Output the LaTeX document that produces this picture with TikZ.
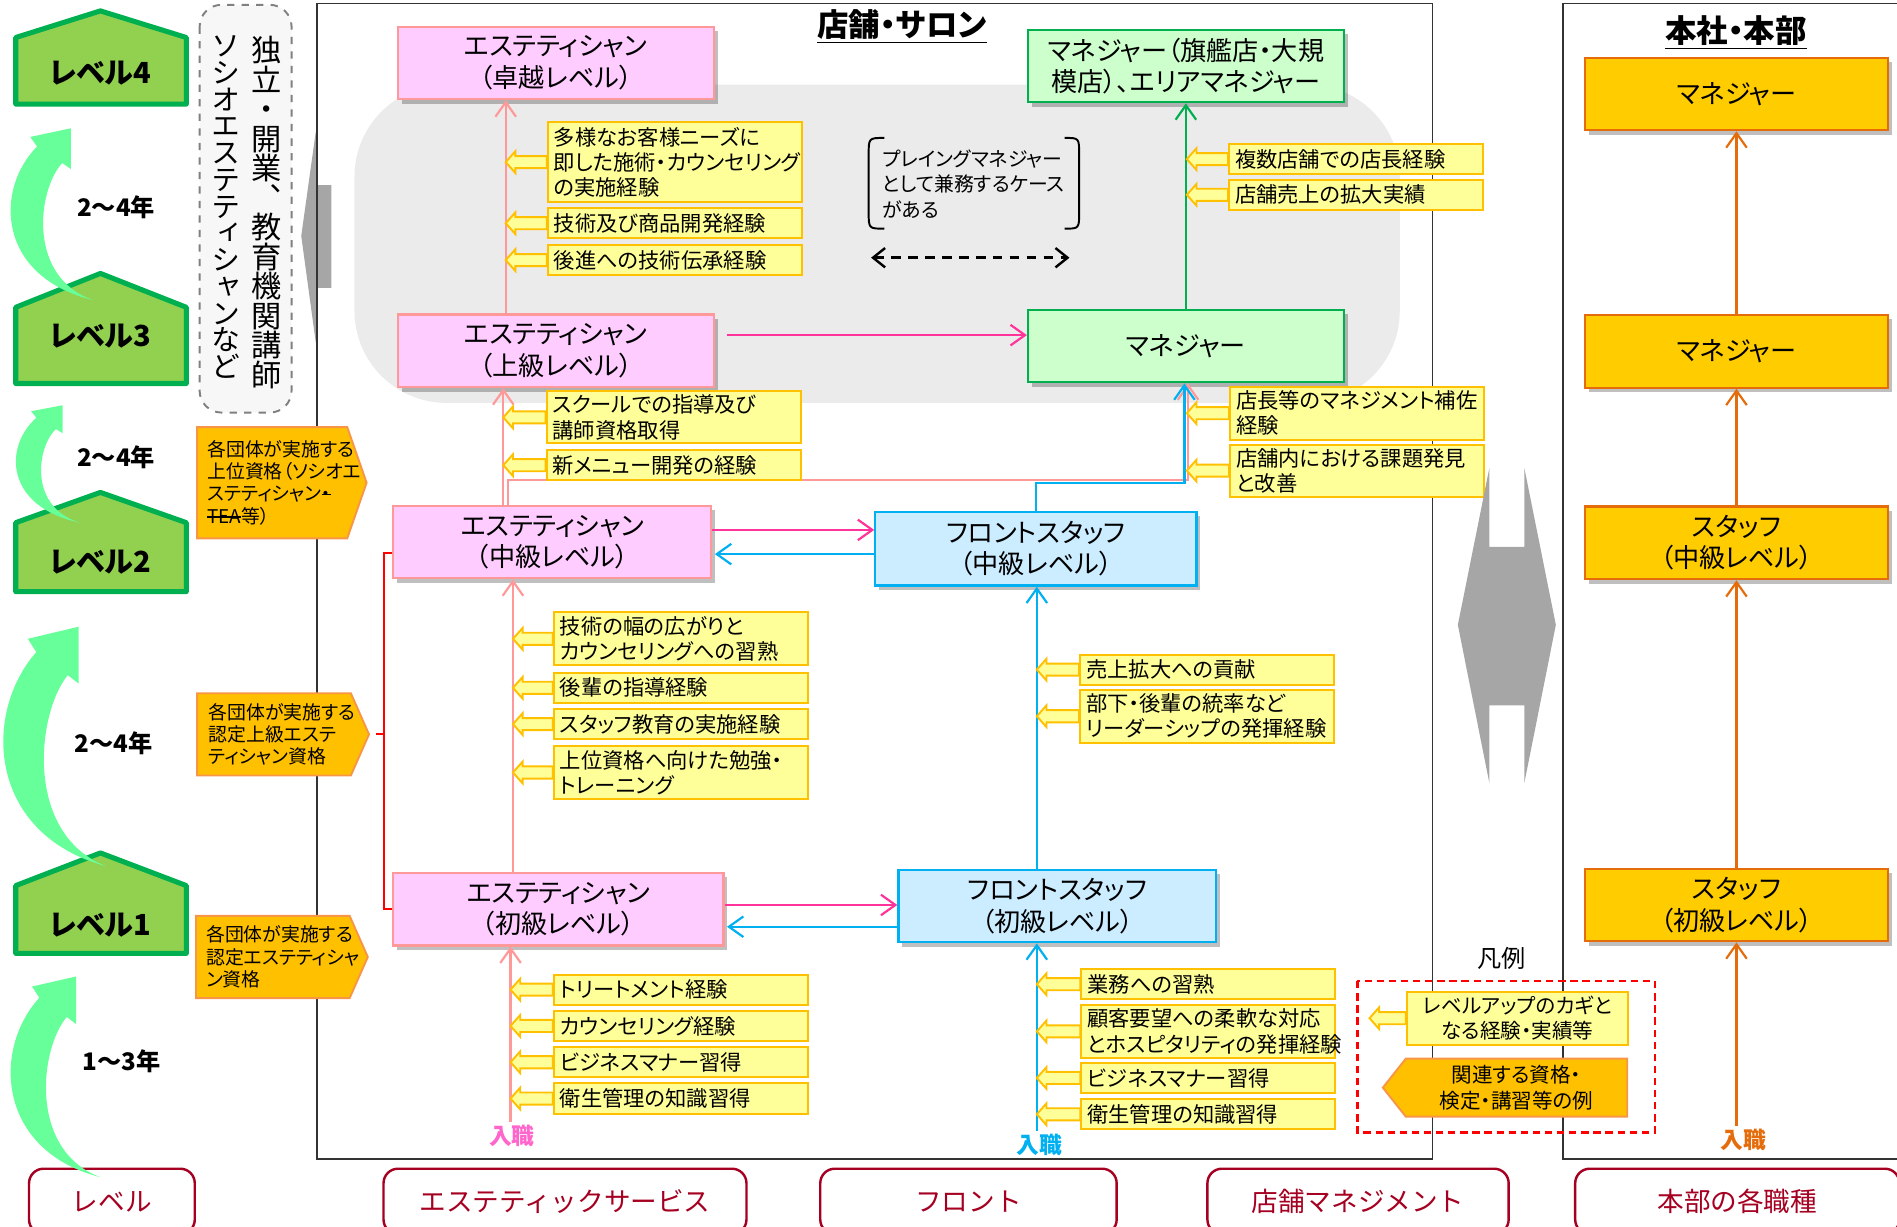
\documentclass[tikz,border=0pt]{standalone}
\usepackage{fontspec}
\setmainfont{Noto Sans CJK JP}[RawFeature=+palt]
\newfontfamily\vjp{Noto Sans CJK JP}[RawFeature=+vert]
\newfontfamily\fulljp{Noto Sans CJK JP}
\usetikzlibrary{arrows.meta,calc,positioning,shadows}

\definecolor{housefill}{HTML}{92D050}
\definecolor{houseedge}{HTML}{00B050}
\definecolor{growfill}{HTML}{66FF99}
\definecolor{esthfill}{HTML}{FFCCFF}
\definecolor{esthedge}{HTML}{FF9999}
\definecolor{hotpink}{HTML}{FF3399}
\definecolor{entrypink}{HTML}{FF66CC}
\definecolor{frontfill}{HTML}{CCECFF}
\definecolor{frontblue}{HTML}{00B0F0}
\definecolor{mgrfill}{HTML}{CCFFCC}
\definecolor{mgrgreen}{HTML}{00B050}
\definecolor{hqfill}{HTML}{FFCC00}
\definecolor{hqorange}{HTML}{E46C0A}
\definecolor{keyfill}{HTML}{FFFF99}
\definecolor{keyedge}{HTML}{FFC000}
\definecolor{qualfill}{HTML}{FFC000}
\definecolor{qualedge}{HTML}{F79646}
\definecolor{regiongray}{HTML}{EBEBEB}
\definecolor{arrowgray}{HTML}{A6A6A6}
\definecolor{catred}{HTML}{A50021}

% strike-through for the struck-out part of a label
\newcommand\struck[1]{\leavevmode\setbox0\hbox{#1}\rlap{\rule[0.3em]{\wd0}{0.5pt}}\box0}

% yellow key label arrow: #1 label node, #2 coordinate of the ladder line
\newcommand\keyarrow[2]{%
  \draw[keyarrowshape] (#1.west -| #2) -- ++(8,-9) -- ++(0,4) -- ($(#1.west)+(0,-5)$)
    -- ($(#1.west)+(0,5)$) -- ($(#1.west -| #2)+(8,5)$) -- ++(0,4) -- cycle;}

% green curved arrow: #1 tail, #2 xscale, #3 yscale
\newcommand\growarrow[3]{%
  \begin{scope}[shift={#1}, xscale=#2, yscale=#3]
    \fill[growfill] (0,0) .. controls (-98,-26) and (-103,-126) .. (-58,-177)
      -- (-65,-188) -- (-23,-198) -- (-23,-151) -- (-32,-158)
      .. controls (-58,-126) and (-68,-26) .. (0,0) -- cycle;
  \end{scope}}

\tikzset{
  basebox/.style={draw, line width=0.9pt, minimum width=130.5pt, minimum height=30pt,
    inner sep=0pt, align=center, font=\fontsize{10.8}{13}\selectfont,
    drop shadow={shadow xshift=1.6pt, shadow yshift=-1.8pt, opacity=.25, fill=black}},
  esthbox/.style={basebox, fill=esthfill, draw=esthedge},
  frontbox/.style={basebox, fill=frontfill, draw=frontblue},
  mgrbox/.style={basebox, fill=mgrfill, draw=mgrgreen},
  hqbox/.style={basebox, fill=hqfill, draw=hqorange, minimum width=125.25pt},
  keylabel/.style={draw=keyedge, fill=keyfill, line width=0.8pt, anchor=west,
    minimum height=#1, text width=100pt, inner xsep=2.5pt, inner ysep=0pt,
    align=left, font=\fontsize{8.8}{10.4}\selectfont},
  keylabel/.default=12.5pt,
  keyarrowshape/.style={draw=keyedge, fill=keyfill, line width=0.8pt},
  qualshape/.style={draw=qualedge, fill=qualfill, line width=0.8pt},
  qualtext/.style={anchor=west, align=left, inner sep=0pt, font=\fontsize{7.8}{9.2}\selectfont},
  house/.style={draw=houseedge, fill=housefill, line width=2.1pt, line join=round},
  leveltext/.style={font=\bfseries\fontsize{12}{14}\selectfont},
  yeartext/.style={font=\bfseries\fontsize{10}{12}\selectfont},
  vtext/.style={align=center, inner sep=0pt},
  conn/.style={line width=0.9pt, -{Straight Barb[length=6pt,width=8.5pt]}},
  pinkflow/.style={conn, draw=esthedge},
  hotflow/.style={conn, draw=hotpink},
  blueflow/.style={conn, draw=frontblue},
  greenflow/.style={conn, draw=mgrgreen},
  orangeflow/.style={conn, draw=hqorange},
  redbracket/.style={draw=red, line width=0.8pt},
  panel/.style={draw=black!80, line width=0.7pt},
  paneltitle/.style={font=\bfseries\fontsize{13}{15}\selectfont},
  entrytext/.style={font=\bfseries\fontsize{9.4}{11}\selectfont, inner sep=1pt},
  catbox/.style={draw=catred, text=catred, line width=1pt, rounded corners=6pt,
    minimum height=27pt, fill=white, font=\fulljp\fontsize{11}{13}\selectfont},
}

\begin{document}
\begin{tikzpicture}[x=0.5pt, y=-0.5pt]
\useasboundingbox (0,0) rectangle (1568,1014);

% panels
\fill[regiongray, rounded corners=38pt] (293,70) rectangle (1157,333);
\fill[arrowgray] (249,195) -- (261,109) -- (261,153) -- (274,153) -- (274,238) -- (261,238) -- (261,283) -- cycle;
\draw[panel] (262,3) rectangle (1184,958);
\draw[panel] (1292,3) rectangle (1600,958);
\node[paneltitle] (st) at (745.5,22) {\underline{店舗・サロン}};
\node[paneltitle] (hq) at (1435,27) {\underline{本社・本部}};

% levels
\draw[house] (13,31) -- (83,9) -- (154,31) -- (154,86) -- (13,86) -- cycle;
\draw[house] (13,254) -- (83,226) -- (154,254) -- (154,317) -- (13,317) -- cycle;
\draw[house] (13,432) -- (83,407) -- (154,432) -- (154,489) -- (13,489) -- cycle;
\draw[house] (13,732) -- (83,705) -- (154,732) -- (154,788) -- (13,788) -- cycle;
\node[leveltext] (lv4) at (83,60.5) {レベル4};
\node[leveltext] (lv3) at (83,277.5) {レベル3};
\node[leveltext] (lv2) at (83,465) {レベル2};
\node[leveltext] (lv1) at (83,765) {レベル1};

% bottom categories
\node[catbox, minimum width=68.5pt] (c1) at (92.5,993) {レベル};
\node[catbox, minimum width=150pt] (c2) at (467,993) {エステティックサービス};
\node[catbox, minimum width=122.5pt] (c3) at (800.5,993) {フロント};
\node[catbox, minimum width=124.5pt] (c4) at (1122.5,993) {店舗マネジメント};
\node[catbox, minimum width=134pt] (c5) at (1436,993) {本部の各職種};

\growarrow{(83,973)}{0.87}{0.838}
\growarrow{(88,716)}{1}{1}
\growarrow{(66,432)}{0.62}{0.49}
\growarrow{(77,248)}{0.8}{0.717}
\node[yeartext] (y4) at (96,171) {2～4年};
\node[yeartext] (y3) at (96,378) {2～4年};
\node[yeartext] (y2) at (94,614.5) {2～4年};
\node[yeartext] (y1) at (100.5,877) {1～3年};

% independent careers
\draw[dashed, draw=black!50, fill=black!3, line width=0.8pt, rounded corners=9pt] (165,4) rectangle (241,341);
\node[vtext, font={\vjp\fontsize{12.5}{12.2}\selectfont\lineskiplimit=-20pt}] (indep) at (220,175.7)
  {独\\立\\・\\開\\業\\、\\教\\育\\機\\関\\講\\師};
\node[vtext, font={\vjp\fontsize{12}{11.05}\selectfont\lineskiplimit=-20pt}] (socio) at (187,171.2)
  {ソ\\シ\\オ\\エ\\ス\\テ\\テ\\ィ\\シ\\ャ\\ン\\な\\ど};

% qualifications
\draw[qualshape] (163,353) -- (287,353) -- (303,399) -- (287,445) -- (163,445) -- cycle;
\draw[qualshape] (163,573) -- (290,573) -- (305,607) -- (290,641) -- (163,641) -- cycle;
\draw[qualshape] (162,757) -- (289,757) -- (304,791) -- (289,825) -- (162,825) -- cycle;
\coordinate (q2tip) at (305,607);
\node[qualtext] (q1) at (171,399) {各団体が実施する\\上位資格（ソシオエ\\ステティシャン\struck{・}\\\struck{TEA}等）};
\node[qualtext] (q2) at (172,607) {各団体が実施する\\認定上級エステ\\ティシャン資格};
\node[qualtext] (q3) at (170,791) {各団体が実施する\\認定エステティシャ\\ン資格};

% career boxes
\node[esthbox] (E4) at (459.5,52) {エステティシャン\\（卓越レベル）};
\node[esthbox] (E3) at (459.5,290) {エステティシャン\\（上級レベル）};
\node[esthbox, minimum width=131.5pt] (E2) at (456.5,448) {エステティシャン\\（中級レベル）};
\node[esthbox, minimum width=136.5pt] (E1) at (461.5,751.5) {エステティシャン\\（初級レベル）};
\node[frontbox, minimum width=132.75pt, minimum height=30.5pt] (F2) at (856.25,453.5) {フロントスタッフ\\（中級レベル）};
\node[frontbox, minimum width=131.4pt] (F1) at (874,748.8) {フロントスタッフ\\（初級レベル）};
\node[mgrbox] (M2) at (980.2,54.5) {マネジャー（旗艦店・大規\\模店）、エリアマネジャー};
\node[mgrbox] (M1) at (980.2,286) {マネジャー};
\node[hqbox] (H4) at (1435.3,77.6) {マネジャー};
\node[hqbox] (H3) at (1435.3,290.4) {マネジャー};
\node[hqbox] (H2) at (1435.3,448.7) {スタッフ\\（中級レベル）};
\node[hqbox] (H1) at (1435.3,748) {スタッフ\\（初級レベル）};

\node[entrytext, text=entrypink] (n1) at (423,939) {入職};
\node[entrytext, text=frontblue] (n2) at (859,946) {入職};
\node[entrytext, text=hqorange] (n3) at (1441,942) {入職};

% ladder lines
\coordinate (eA) at (418,0);
\coordinate (eB) at (416,0);
\coordinate (eC) at (424,0);
\coordinate (eD) at (422,0);
\coordinate (eJ) at (420,0);
\coordinate (fx) at (857,0);
\coordinate (mx) at (981,0);
\coordinate (lgx) at (1132,0);
\coordinate (jp) at (982,397);
\coordinate (jb) at (979,399.5);

\draw[pinkflow] (E3.north -| eA) -- (E4.south -| eA);
\draw[pinkflow] (E2.north -| eB) -- (E3.south -| eB);
\draw[pinkflow] (E1.north -| eC) -- (E2.south -| eC);
\draw[pinkflow] (n1.north -| eD) -- (E1.south -| eD);
\draw[pinkflow] (E2.north -| eJ) |- (jp) -- (jp |- M1.south);
\draw[blueflow] (F2.north) |- (jb) -- (jb |- M1.south);
\draw[blueflow] (F1.north -| fx) -- (F2.south -| fx);
\draw[blueflow] (n2.north -| fx) -- (F1.south -| fx);
\draw[greenflow] (M1.north) -- (M2.south);
\draw[orangeflow] (H1.north) -- (H2.south);
\draw[orangeflow] (H2.north) -- (H3.south);
\draw[orangeflow] (H3.north) -- (H4.south);
\draw[orangeflow] (H1.south |- n3.north) -- (H1.south);

\draw[hotflow] ([xshift=5pt,yshift=6.5pt]E3.east) -- ([yshift=6.5pt]E3.east -| M1.west);
\draw[hotflow] ([yshift=5pt]E2.east) -- ([yshift=5pt]E2.east -| F2.west);
\draw[blueflow] ([yshift=-5pt]E2.east -| F2.west) -- ([xshift=1pt,yshift=-5pt]E2.east);
\draw[hotflow] ([yshift=1.75pt]E1.east) -- ([yshift=1.75pt]E1.east -| F1.west);
\draw[blueflow] ([yshift=-7.25pt]E1.east -| F1.west) -- ([xshift=1pt,yshift=-7.25pt]E1.east);

\draw[redbracket] ([yshift=-4.5pt]E2.west) -- ++(-7,0) |- (E1.west);
\draw[redbracket] (q2tip) ++(6,0) -- ++(7,0);

% key experiences
\node[keylabel=33pt] (k1) at (452,134) {多様なお客様ニーズに\\即した施術・カウンセリング\\の実施経験};
\node[keylabel] (k2) at (452,184.5) {技術及び商品開発経験};
\node[keylabel] (k3) at (452,215) {後進への技術伝承経験};
\node[keylabel=21.5pt] (k4) at (451,345) {スクールでの指導及び\\講師資格取得};
\node[keylabel] (k5) at (451,384.5) {新メニュー開発の経験};
\node[keylabel=22pt] (k6) at (457,528) {技術の幅の広がりと\\カウンセリングへの習熟};
\node[keylabel] (k7) at (457,568.5) {後輩の指導経験};
\node[keylabel] (k8) at (457,598.5) {スタッフ教育の実施経験};
\node[keylabel=22pt] (k9) at (457,638.5) {上位資格へ向けた勉強・\\トレーニング};
\node[keylabel] (k10) at (457,818) {トリートメント経験};
\node[keylabel] (k11) at (457,848) {カウンセリング経験};
\node[keylabel] (k12) at (457,878) {ビジネスマナー習得};
\node[keylabel] (k13) at (457,908) {衛生管理の知識習得};
\node[keylabel] (k14) at (892,553.5) {売上拡大への貢献};
\node[keylabel=22pt] (k15) at (892,592) {部下・後輩の統率など\\リーダーシップの発揮経験};
\node[keylabel] (k16) at (893,813.5) {業務への習熟};
\node[keylabel=22pt] (k17) at (893,852.5) {顧客要望への柔軟な対応\\とホスピタリティの発揮経験};
\node[keylabel] (k18) at (893,891) {ビジネスマナー習得};
\node[keylabel] (k19) at (893,921) {衛生管理の知識習得};
\node[keylabel] (k20) at (1015,131.5) {複数店舗での店長経験};
\node[keylabel] (k21) at (1015,161) {店舗売上の拡大実績};
\node[keylabel=22pt] (k22) at (1016,341.5) {店長等のマネジメント補佐\\経験};
\node[keylabel=21.5pt] (k23) at (1016,389) {店舗内における課題発見\\と改善};
\keyarrow{k1}{eA} \keyarrow{k2}{eA} \keyarrow{k3}{eA}
\keyarrow{k4}{eB} \keyarrow{k5}{eB}
\keyarrow{k6}{eC} \keyarrow{k7}{eC} \keyarrow{k8}{eC} \keyarrow{k9}{eC}
\keyarrow{k10}{eD} \keyarrow{k11}{eD} \keyarrow{k12}{eD} \keyarrow{k13}{eD}
\keyarrow{k14}{fx} \keyarrow{k15}{fx}
\keyarrow{k16}{fx} \keyarrow{k17}{fx} \keyarrow{k18}{fx} \keyarrow{k19}{fx}
\keyarrow{k20}{mx} \keyarrow{k21}{mx} \keyarrow{k22}{mx} \keyarrow{k23}{mx}

% playing manager note
\node[anchor=west, align=left, inner sep=0pt, font=\fontsize{8.2}{10.5}\selectfont] (nt) at (729,152)
  {プレイングマネジャー\\として兼務するケース\\がある};
\draw[line width=0.8pt] (731,114) .. controls (718,114) .. (718,128) -- (718,175) .. controls (718,189) .. (731,189);
\draw[line width=0.8pt] (880,114) .. controls (892,114) .. (892,128) -- (892,175) .. controls (892,189) .. (880,189);
\coordinate (pl) at (720,213);
\coordinate (pr) at (884,213);
\draw[line width=1pt, dash pattern=on 4pt off 3pt, {Straight Barb[length=5pt,width=8pt]}-{Straight Barb[length=5pt,width=8pt]}] (pl) -- (pr);

% store <-> head office
\fill[arrowgray] (1231,387) -- (1231,452) -- (1260,452) -- (1260,387) -- (1286,516.5) -- (1260,647)
  -- (1260,583) -- (1231,583) -- (1231,647) -- (1205,516.5) -- cycle;

% legend
\node[font=\fontsize{10}{12}\selectfont] (lgt) at (1241,792) {凡例};
\draw[draw=red, line width=1pt, dash pattern=on 3pt off 2pt] (1122,811) rectangle (1368,936);
\node[keylabel=22pt, text width=86.5pt, align=center, font=\fontsize{8.5}{10.4}\selectfont] (k0) at (1162,841.6)
  {レベルアップのカギと\\なる経験・実績等};
\keyarrow{k0}{lgx}
\draw[qualshape] (1143,899) -- (1162,875) -- (1345,875) -- (1345,923) -- (1162,923) -- cycle;
\node[align=center, inner sep=0pt, font=\fontsize{8.5}{10.4}\selectfont] (q0) at (1253.5,899)
  {関連する資格・\\検定・講習等の例};
\end{tikzpicture}
\end{document}
